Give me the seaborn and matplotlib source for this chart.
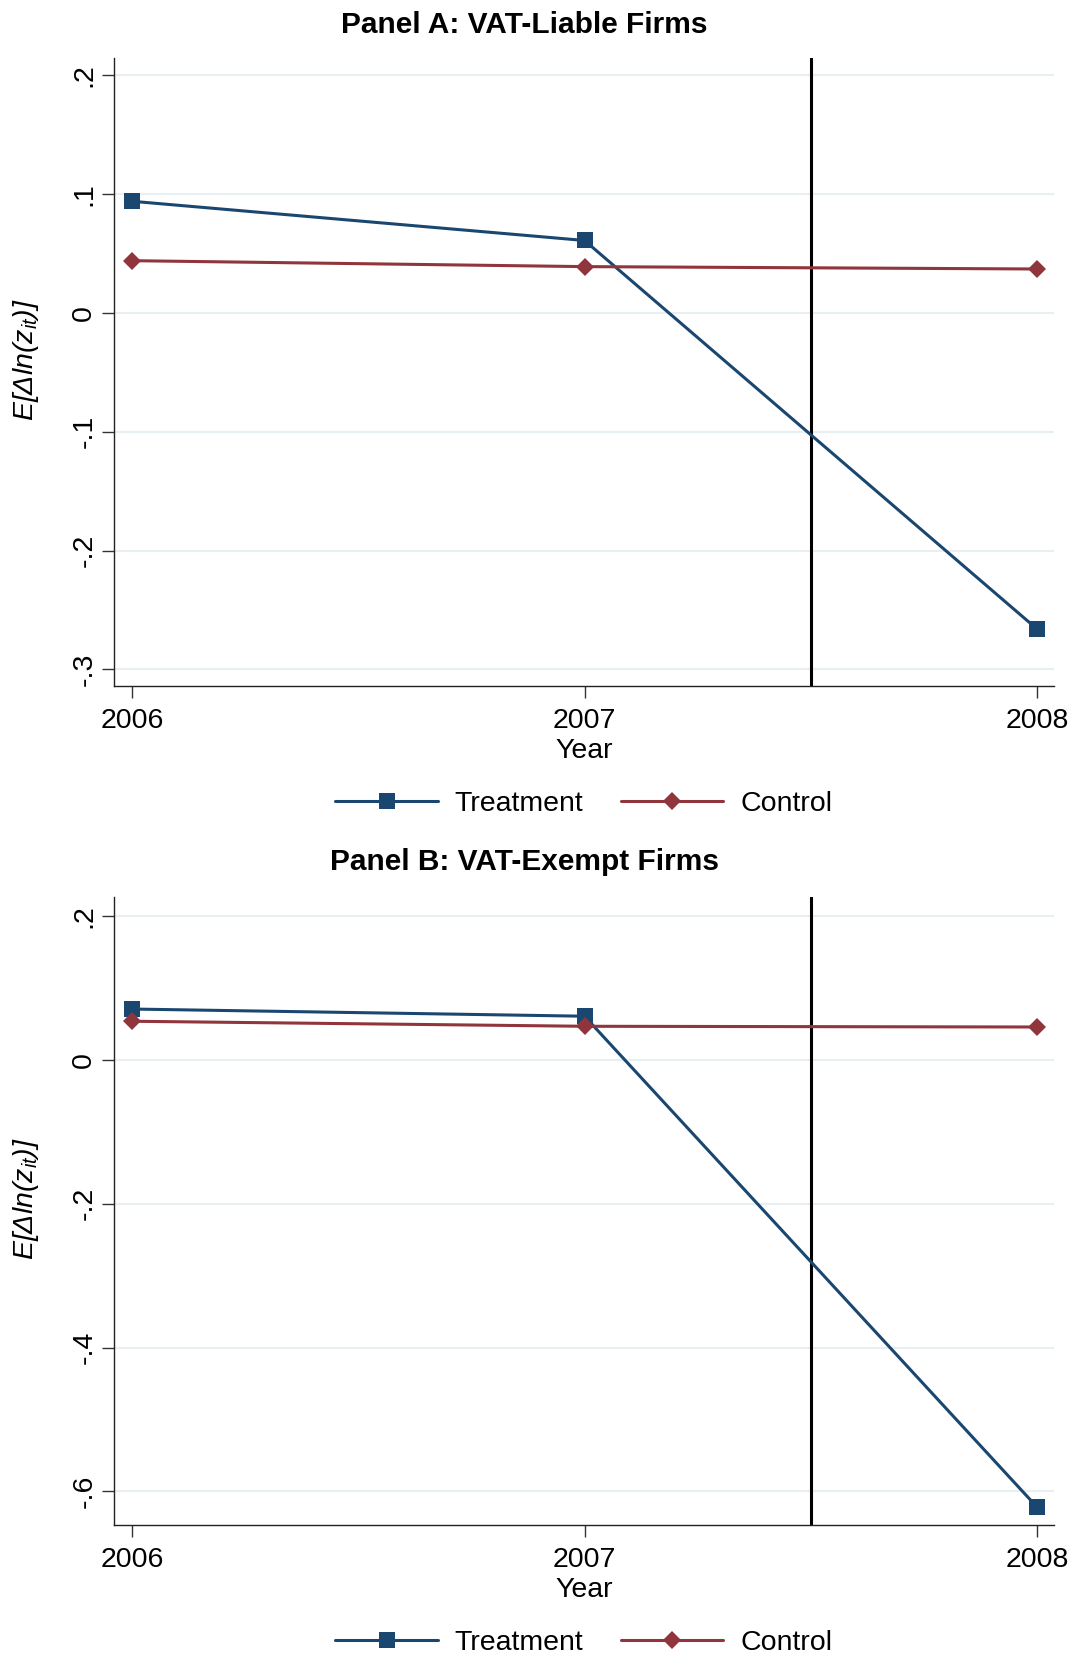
import matplotlib
matplotlib.use("Agg")
import matplotlib.pyplot as plt
from matplotlib.lines import Line2D
import pandas as pd
import seaborn as sns

# Yearly mean log changes by group
years = [2006, 2007, 2008]
treat_liable = [0.094, 0.061, -0.266]
ctrl_liable = [0.044, 0.039, 0.037]
treat_exempt = [0.071, 0.061, -0.622]
ctrl_exempt = [0.054, 0.047, 0.046]

yticks_liable = [0.2, 0.1, 0.0, -0.1, -0.2, -0.3]
ylabels_liable = [".2", ".1", "0", "-.1", "-.2", "-.3"]
yticks_exempt = [0.2, 0.0, -0.2, -0.4, -0.6]
ylabels_exempt = [".2", "0", "-.2", "-.4", "-.6"]
xlabels = ["2006", "2007", "2008"]
reform_year = 2007.5

NAVY = "#1a476f"
MAROON = "#90353b"
GRID = "#e8eff2"
FS = 20.5
LW = 2.2
MS_SQ = 11.0
MS_DI = 9.3

sns.set_theme(style="white")
plt.rcParams["font.family"] = ["Liberation Sans", "DejaVu Sans"]
plt.rcParams["mathtext.fontset"] = "custom"
plt.rcParams["mathtext.rm"] = "Liberation Sans"
plt.rcParams["mathtext.it"] = "Liberation Sans:italic"
plt.rcParams["mathtext.bf"] = "Liberation Sans:bold"
for key in ("text.color", "axes.labelcolor", "xtick.color", "ytick.color"):
    plt.rcParams[key] = "black"

W, H = 1075, 1655
fig = plt.figure(figsize=(W / 100, H / 100), dpi=100)


def draw_panel(ax, treat, ctrl, yticks, ylabels, ylim, title, title_y, legend_y):
    df = pd.DataFrame({
        "year": years * 2,
        "value": treat + ctrl,
        "group": ["Treatment"] * len(years) + ["Control"] * len(years),
    })
    for t in yticks:
        ax.axhline(t, color=GRID, lw=1.5, zorder=0)
    ax.axvline(reform_year, color="black", lw=2.2, zorder=1)

    sns.lineplot(data=df[df.group == "Treatment"], x="year", y="value",
                 color=NAVY, marker="s", markersize=MS_SQ, markeredgewidth=0,
                 lw=LW, legend=False, ax=ax, zorder=3)
    sns.lineplot(data=df[df.group == "Control"], x="year", y="value",
                 color=MAROON, marker="D", markersize=MS_DI, markeredgewidth=0,
                 lw=LW, legend=False, ax=ax, zorder=3)

    ax.set_xlim(2005.96, 2008.0376)
    ax.set_ylim(*ylim)
    ax.set_xticks(years, xlabels, fontsize=FS)
    ax.set_yticks(yticks, ylabels, fontsize=FS, rotation=90, va="center")
    ax.tick_params(axis="both", direction="out", length=8.5, width=1.0,
                   color="#333333", bottom=True, left=True)
    ax.tick_params(axis="y", pad=3.5)
    ax.tick_params(axis="x", pad=7)
    for side in ("top", "right"):
        ax.spines[side].set_visible(False)
    for side in ("left", "bottom"):
        ax.spines[side].set_color("#222222")
        ax.spines[side].set_linewidth(1.0)
    ax.grid(False)

    ax.set_xlabel("Year", fontsize=FS, labelpad=3)
    ax.set_ylabel(r"E[Δln(z$_{it}$)]", fontsize=FS, style="italic")
    ax.yaxis.set_label_coords(-0.078, 0.52)

    fig.text(0.488, title_y, title, ha="center", va="center",
             fontsize=21.5, fontweight="bold")

    handles = [
        Line2D([], [], color=NAVY, lw=LW, marker="s", markersize=MS_SQ,
               markeredgewidth=0),
        Line2D([], [], color=MAROON, lw=LW, marker="D", markersize=MS_DI,
               markeredgewidth=0),
    ]
    fig.legend(handles, ["Treatment", "Control"], loc="center",
               bbox_to_anchor=(0.543, legend_y), ncol=2, frameon=False,
               fontsize=FS, handlelength=3.6, handletextpad=0.6,
               columnspacing=1.3)


ax_a = fig.add_axes([114 / W, 1 - 686 / H, 940 / W, 628 / H])
draw_panel(ax_a, treat_liable, ctrl_liable, yticks_liable, ylabels_liable,
           (-0.314, 0.2146), "Panel A: VAT-Liable Firms", 1 - 25 / H,
           1 - 804 / H)

ax_b = fig.add_axes([114 / W, 1 - 1525 / H, 940 / W, 628 / H])
draw_panel(ax_b, treat_exempt, ctrl_exempt, yticks_exempt, ylabels_exempt,
           (-0.647, 0.2269), "Panel B: VAT-Exempt Firms", 1 - 862 / H,
           1 - 1643 / H)

fig.savefig("out.png", dpi=100, facecolor="white")
